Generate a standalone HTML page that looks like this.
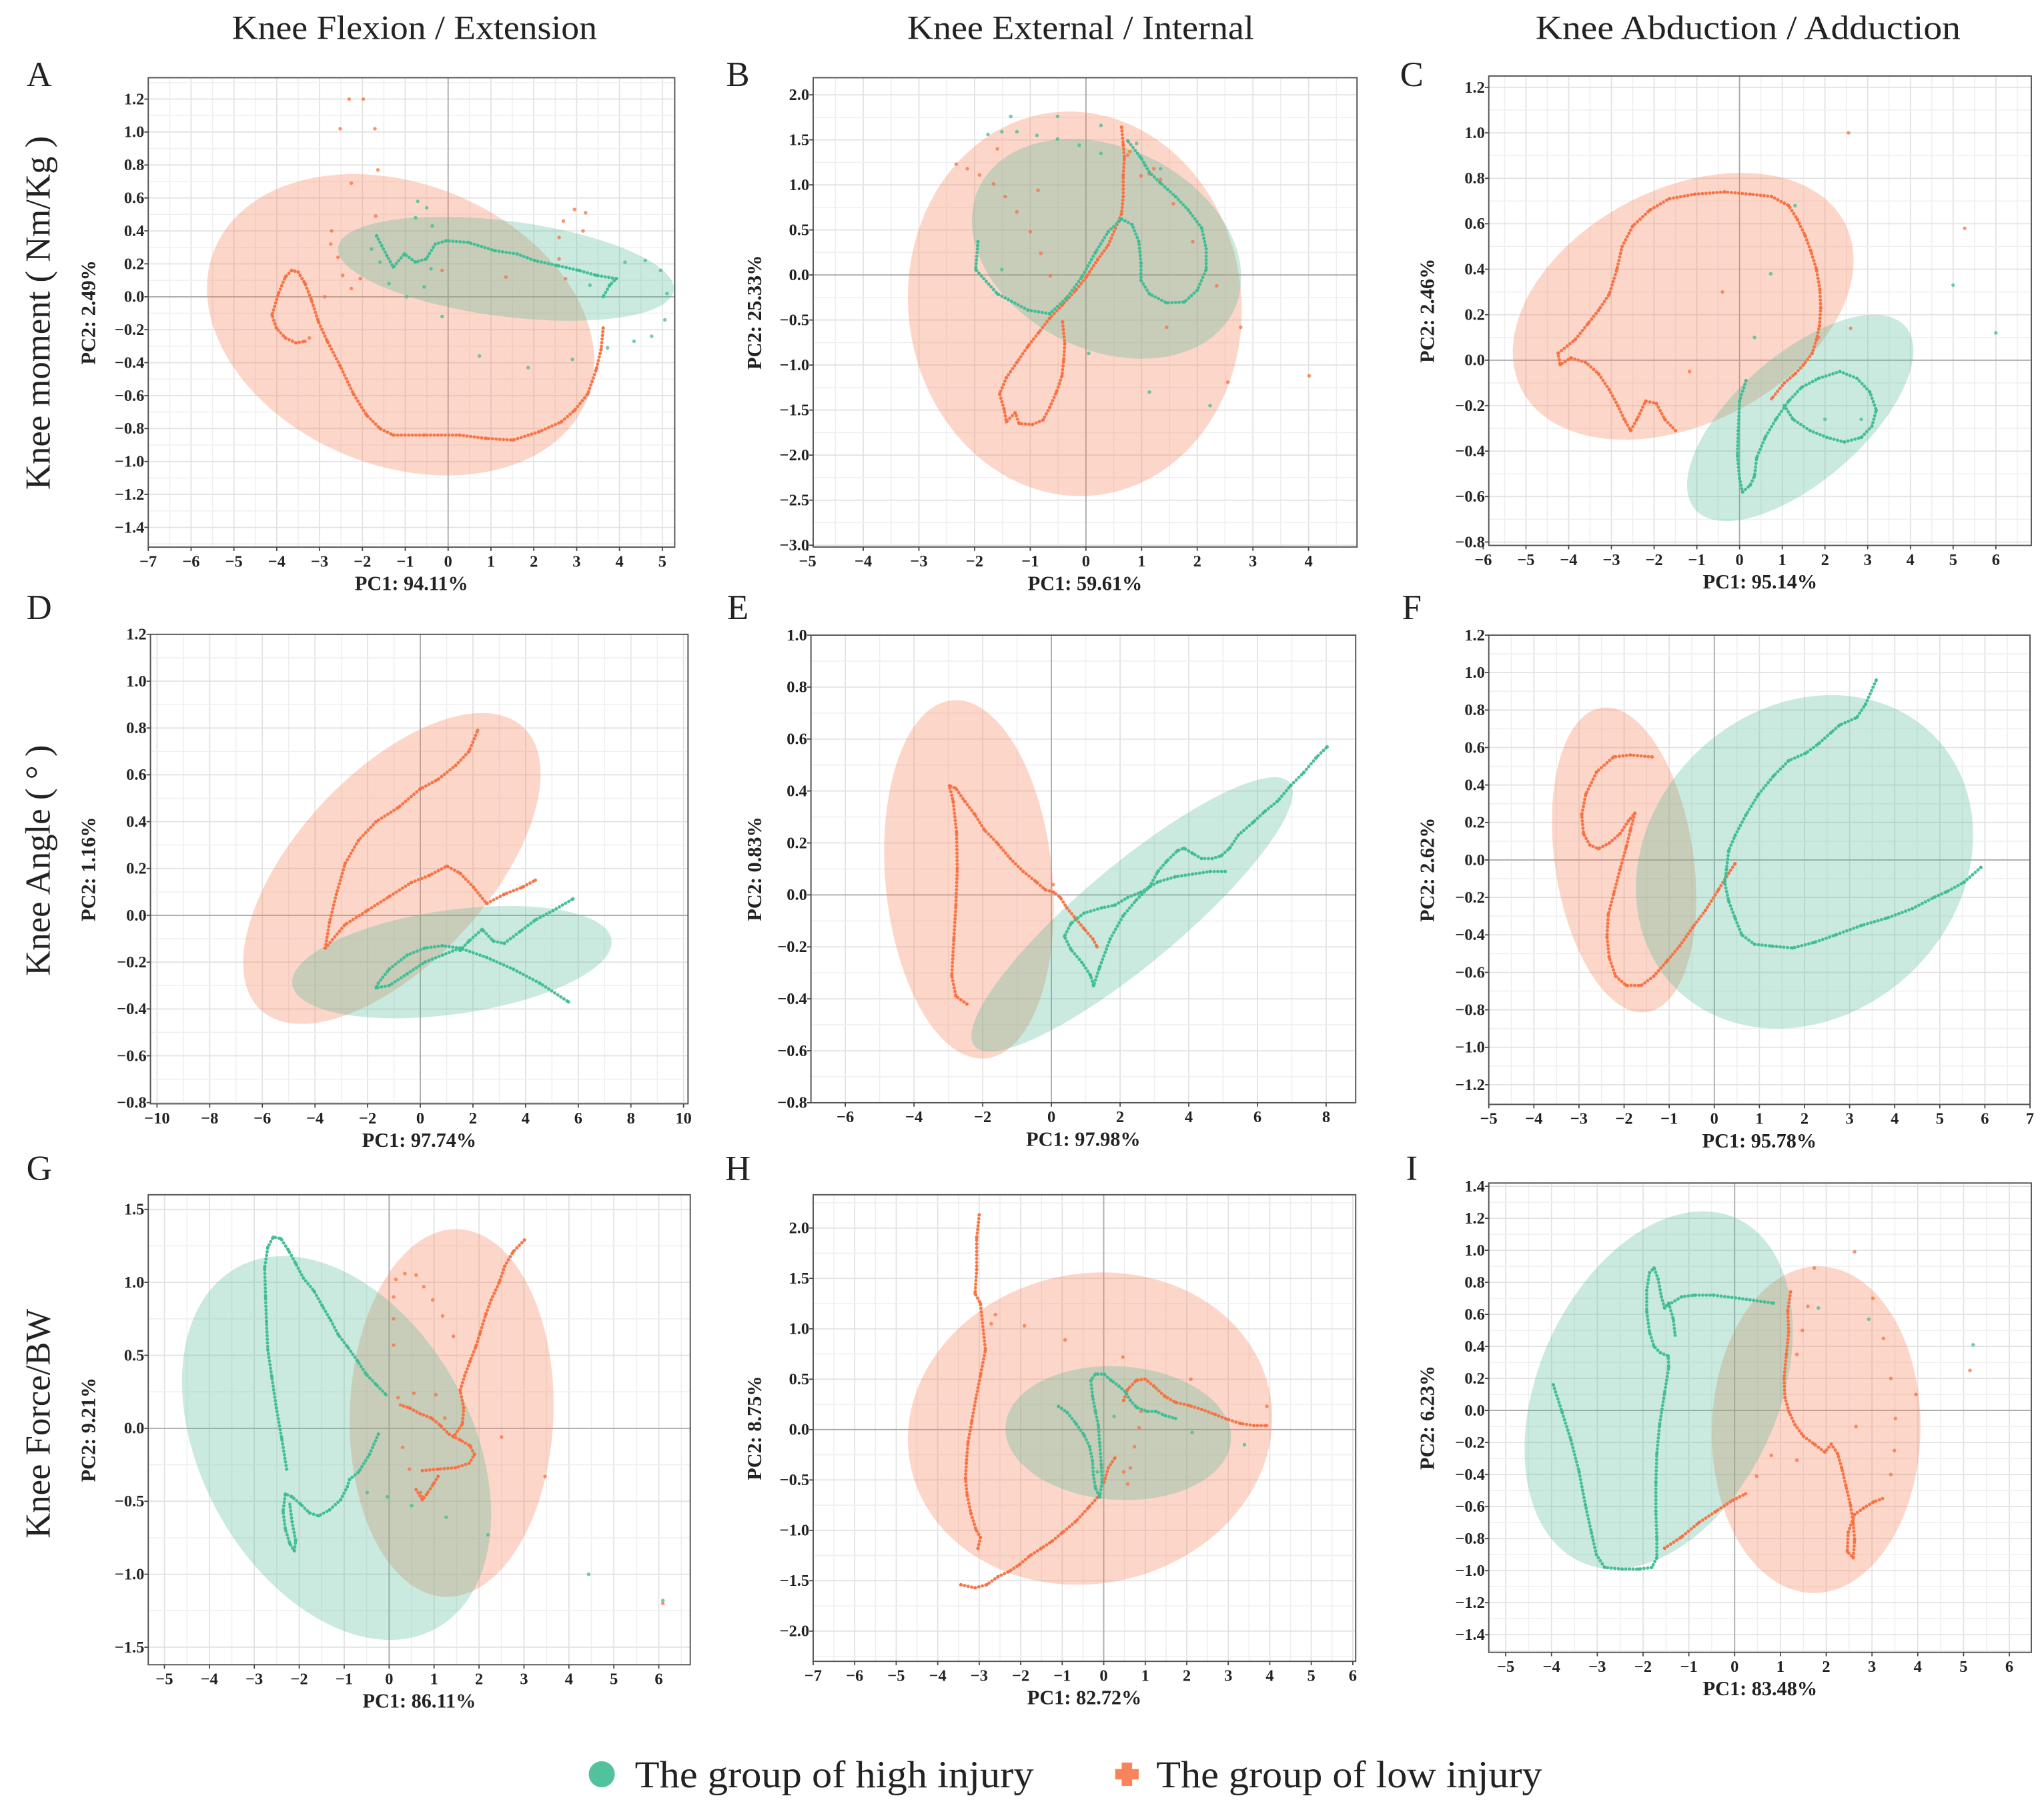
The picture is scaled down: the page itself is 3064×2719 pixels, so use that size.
<!DOCTYPE html>
<html><head><meta charset="utf-8">
<style>
html,body{margin:0;padding:0;background:#fff;}
svg{display:block;}
text{font-family:"Liberation Serif","Times New Roman",serif;fill:#222;}
.tk{font-size:12.5px;font-weight:bold;}
.al{font-size:15.5px;font-weight:bold;}
</style></head>
<body>
<svg id="fig" xmlns="http://www.w3.org/2000/svg" width="3064" height="2719" viewBox="0 0 1568 1391.5">
<rect x="0" y="0" width="1568" height="1391.5" fill="#fff"/>
<text x="318" y="30" font-size="26" text-anchor="middle" textLength="280" lengthAdjust="spacingAndGlyphs">Knee Flexion / Extension</text>
<text x="829" y="30" font-size="26" text-anchor="middle" textLength="266" lengthAdjust="spacingAndGlyphs">Knee External / Internal</text>
<text x="1341" y="30" font-size="26" text-anchor="middle" textLength="326" lengthAdjust="spacingAndGlyphs">Knee Abduction  / Adduction</text>
<text x="38" y="240" font-size="27" text-anchor="middle" transform="rotate(-90 38 240)">Knee moment ( Nm/Kg )</text>
<text x="38" y="660" font-size="27" text-anchor="middle" transform="rotate(-90 38 660)">Knee Angle ( ° )</text>
<text x="38" y="1092" font-size="27" text-anchor="middle" transform="rotate(-90 38 1092)">Knee Force/BW</text>
<g>
<circle cx="461.6" cy="1361" r="10" fill="#52c29c"/>
<text x="487" y="1371" font-size="29" textLength="306" lengthAdjust="spacingAndGlyphs">The group of high injury</text>
<path d="M860.5 1352h8v5h5v8h-5v5h-8v-5h-5v-8h5z" fill="#f7845a"/>
<text x="887" y="1371" font-size="29" textLength="296" lengthAdjust="spacingAndGlyphs">The group of low injury</text>
</g>
</svg>
<script>
const A_pinkEll=[-1.11,-0.17,4.52,0.915,-1.09];
const A_greenEll=[1.35,0.17,3.92,0.316,-1.49];
const B_pinkEll=[-0.2,-0.32,3.0,2.135,-0.1];
const B_greenEll=[0.37,0.29,2.42,1.22,-0.63];
const C_pinkEll=[-1.32,0.237,3.99,0.587,1.37];
const C_greenEll=[1.42,-0.254,2.65,0.454,1.73];
const D_pinkEll=[-1.08,0.2,5.65,0.664,3.43];
const D_greenEll=[1.2,-0.2,6.07,0.24,2.16];
const E_pinkEll=[-2.4,0.06,2.47,0.69,-0.38];
const E_greenEll=[2.35,-0.075,4.68,0.528,4.15];
const F_pinkEll=[-2.0,0.0,1.6,0.814,-0.4];
const F_greenEll=[2.0,-0.01,3.74,0.89,0.6];
const G_pinkEll=[1.39,0.105,2.27,1.26,0.1];
const G_greenEll=[-1.17,-0.135,3.44,1.315,-1.19];
const H_pinkEll=[-0.33,0.01,4.39,1.55,0.3];
const H_greenEll=[0.35,-0.035,2.72,0.665,-0.18];
const I_pinkEll=[1.78,-0.12,2.28,1.02,0.05];
const I_greenEll=[-1.66,0.127,2.93,1.117,0.97];

const A_pinkPaths=[[[3.62,-0.19],[3.57,-0.32],[3.46,-0.44],[3.26,-0.59],[2.95,-0.69],[2.64,-0.76],[2.12,-0.82],[1.51,-0.87],[0.89,-0.86],[0.27,-0.84],[-0.56,-0.84],[-1.28,-0.84],[-1.59,-0.8],[-1.9,-0.72],[-2.21,-0.59],[-2.52,-0.42],[-2.82,-0.27],[-3.03,-0.15],[-3.19,-0.02],[-3.34,0.08],[-3.5,0.15],[-3.65,0.16],[-3.8,0.12],[-3.96,0.02],[-4.11,-0.11],[-4.01,-0.19],[-3.8,-0.25],[-3.55,-0.28],[-3.34,-0.27]]];
const A_pinkPts=[[-2.52,1.02],[-2.31,1.2],[-1.98,1.2],[-1.71,1.02],[-1.64,0.77],[-2.26,0.69],[-1.69,0.49],[-2.72,0.4],[-2.74,0.32],[-2.57,0.24],[-2.46,0.13],[-2.26,0.05],[-2.05,0.11],[2.95,0.53],[3.21,0.51],[3.15,0.4],[2.69,0.46],[2.59,0.36],[2.59,0.23],[2.74,0.11],[1.35,0.12],[-0.14,0.16],[-2.88,0.0],[-3.24,-0.25]];
const A_greenPaths=[[[-1.67,0.37],[-1.43,0.25],[-1.28,0.18],[-1.02,0.26],[-0.76,0.21],[-0.51,0.23],[-0.3,0.32],[-0.04,0.34],[0.47,0.33],[1.09,0.28],[1.61,0.26],[2.02,0.22],[2.54,0.19],[3.05,0.16],[3.46,0.13],[3.93,0.11],[3.77,0.07],[3.62,0.0]]];
const A_greenPts=[[-0.71,0.58],[-0.5,0.54],[-0.76,0.48],[-0.37,0.43],[-1.79,0.29],[-1.59,0.21],[-1.38,0.08],[-0.97,0.0],[-0.56,0.06],[-0.4,0.17],[-0.14,-0.12],[0.73,-0.36],[1.87,-0.43],[2.9,-0.38],[4.13,0.21],[4.6,0.22],[4.96,0.16],[5.11,0.02],[5.06,-0.14],[4.34,-0.27],[4.75,-0.24],[3.72,-0.31],[3.31,0.07]];

const B_pinkPaths=[[[0.64,1.64],[0.67,1.45],[0.69,1.3],[0.67,1.1],[0.67,0.87],[0.64,0.68],[0.4,0.33],[0.21,0.17],[0.01,-0.02],[-0.18,-0.17],[-0.42,-0.33],[-0.65,-0.48],[-0.85,-0.64],[-1.04,-0.79],[-1.24,-0.97],[-1.43,-1.14],[-1.55,-1.32],[-1.47,-1.49],[-1.43,-1.63],[-1.27,-1.53],[-1.2,-1.65],[-0.96,-1.66],[-0.77,-1.61],[-0.65,-1.47],[-0.53,-1.3],[-0.43,-1.12],[-0.4,-0.95],[-0.38,-0.76],[-0.42,-0.52]]];
const B_pinkPts=[[-2.33,1.23],[-2.13,1.18],[-1.91,1.11],[-1.59,1.4],[-1.66,1.01],[-1.45,0.87],[-1.24,0.7],[-0.86,0.94],[-1.0,0.48],[-0.81,0.24],[-0.64,-0.01],[0.79,1.37],[1.06,1.22],[1.22,1.18],[0.99,1.1],[1.14,1.12],[1.34,1.06],[1.57,0.79],[1.92,0.37],[2.35,-0.12],[1.45,-0.58],[2.78,-0.58],[2.55,-1.19],[4.01,-1.12],[0.75,1.33]];
const B_greenPaths=[[[-1.94,0.37],[-1.98,0.06],[-1.59,-0.21],[-1.04,-0.39],[-0.65,-0.43],[-0.34,-0.25],[-0.07,-0.02],[0.17,0.25],[0.4,0.48],[0.64,0.62],[0.83,0.56],[0.95,0.37],[0.99,0.13],[0.99,-0.06],[1.14,-0.21],[1.45,-0.31],[1.77,-0.3],[2.0,-0.17],[2.16,0.06],[2.16,0.29],[2.08,0.52],[1.84,0.72],[1.61,0.87],[1.34,1.02],[1.14,1.14],[0.99,1.3],[0.75,1.49]]];
const B_greenPts=[[-1.35,1.76],[-0.51,1.76],[-1.76,1.56],[-1.51,1.59],[-1.24,1.59],[-0.88,1.55],[-0.51,1.51],[-0.12,1.44],[0.27,1.66],[0.27,1.35],[0.91,1.46],[1.34,1.18],[-1.51,0.06],[0.05,-0.87],[1.14,-1.3],[2.23,-1.45]];

const C_pinkPaths=[[[-1.5,-0.31],[-1.75,-0.26],[-1.95,-0.19],[-2.2,-0.18],[-2.4,-0.26],[-2.55,-0.31],[-2.7,-0.26],[-2.85,-0.2],[-3.05,-0.13],[-3.3,-0.06],[-3.6,-0.01],[-3.95,0.01],[-4.2,-0.02],[-4.25,0.03],[-3.85,0.09],[-3.55,0.16],[-3.3,0.22],[-3.05,0.29],[-2.87,0.4],[-2.75,0.5],[-2.5,0.59],[-2.1,0.66],[-1.65,0.71],[-1.05,0.73],[-0.35,0.74],[0.25,0.73],[0.75,0.72],[1.15,0.68],[1.35,0.62],[1.53,0.55],[1.67,0.48],[1.8,0.4],[1.88,0.31],[1.9,0.23],[1.87,0.15],[1.8,0.09],[1.7,0.03],[1.5,-0.02],[1.3,-0.06],[1.05,-0.1],[0.75,-0.17]]];
const C_pinkPts=[[2.55,1.0],[5.27,0.58],[-0.4,0.3],[-1.17,-0.05],[2.6,0.14],[1.85,0.1]];
const C_greenPaths=[[[0.15,-0.09],[0.0,-0.18],[-0.03,-0.31],[-0.05,-0.42],[0.0,-0.52],[0.07,-0.58],[0.25,-0.55],[0.35,-0.51],[0.4,-0.43],[0.6,-0.34],[0.85,-0.26],[1.15,-0.18],[1.45,-0.12],[1.85,-0.08],[2.35,-0.05],[2.75,-0.08],[3.05,-0.14],[3.2,-0.22],[3.1,-0.29],[2.85,-0.34],[2.45,-0.36],[2.05,-0.34],[1.65,-0.31],[1.25,-0.26],[1.05,-0.2]]];
const C_greenPts=[[1.3,0.68],[0.73,0.38],[0.35,0.1],[5.0,0.33],[6.0,0.12],[2.0,-0.26],[2.85,-0.26]];

const D_pinkPaths=[[[-3.61,-0.14],[-3.45,-0.03],[-3.19,0.09],[-2.86,0.22],[-2.35,0.32],[-1.68,0.4],[-0.84,0.46],[0.0,0.54],[0.67,0.58],[1.34,0.64],[1.85,0.7],[2.18,0.79]],[[-3.61,-0.14],[-2.86,-0.04],[-2.02,0.02],[-1.18,0.08],[-0.34,0.14],[0.34,0.17],[1.01,0.21],[1.51,0.18],[2.02,0.12],[2.52,0.05],[3.19,0.09],[3.87,0.12],[4.37,0.15]]];
const D_pinkPts=[];
const D_greenPaths=[[[1.51,-0.14],[0.84,-0.13],[0.17,-0.14],[-0.5,-0.17],[-1.18,-0.23],[-1.6,-0.29],[-1.68,-0.31],[-1.18,-0.3],[-0.5,-0.25],[0.17,-0.2],[0.84,-0.17],[1.51,-0.14],[2.52,-0.18],[3.53,-0.23],[4.54,-0.29],[5.63,-0.37]],[[1.51,-0.15],[1.85,-0.11],[2.35,-0.06],[2.77,-0.11],[3.19,-0.12],[3.78,-0.07],[4.37,-0.02],[5.04,0.02],[5.8,0.07]]];
const D_greenPts=[];

const E_pinkPaths=[[[-2.46,-0.42],[-2.78,-0.39],[-2.9,-0.31],[-2.84,-0.17],[-2.78,-0.04],[-2.74,0.1],[-2.76,0.24],[-2.86,0.36],[-2.97,0.42],[-2.78,0.41],[-2.52,0.36],[-2.23,0.31],[-1.95,0.25],[-1.58,0.2],[-1.2,0.14],[-0.82,0.09],[-0.44,0.05],[-0.18,0.02],[0.07,0.01],[0.26,-0.01],[0.45,-0.05],[0.7,-0.09],[0.95,-0.13],[1.21,-0.17],[1.33,-0.2]]];
const E_pinkPts=[[0.05,0.04]];
const E_greenPaths=[[[5.06,0.09],[4.62,0.09],[4.11,0.08],[3.61,0.07],[3.1,0.05],[2.6,0.01],[2.22,-0.01],[1.84,-0.04],[1.46,-0.05],[0.95,-0.07],[0.57,-0.11],[0.38,-0.16],[0.57,-0.21],[0.89,-0.26],[1.14,-0.31],[1.23,-0.35],[1.4,-0.28],[1.71,-0.17],[2.09,-0.08],[2.47,-0.02],[2.85,0.03],[3.1,0.09],[3.36,0.13],[3.67,0.17],[3.86,0.18],[4.11,0.16],[4.37,0.14],[4.68,0.14],[4.94,0.15],[5.19,0.18],[5.44,0.23],[5.88,0.28],[6.2,0.32],[6.58,0.36],[6.96,0.42],[7.34,0.47],[7.72,0.53],[8.03,0.57]]];
const E_greenPts=[];

const F_pinkPaths=[[[-1.38,0.55],[-1.86,0.56],[-2.23,0.55],[-2.61,0.47],[-2.85,0.35],[-2.94,0.24],[-2.9,0.14],[-2.76,0.08],[-2.57,0.06],[-2.33,0.09],[-2.09,0.14],[-1.9,0.21],[-1.76,0.25],[-1.86,0.16],[-1.95,0.07],[-2.09,-0.05],[-2.23,-0.18],[-2.35,-0.29],[-2.38,-0.41],[-2.33,-0.52],[-2.19,-0.62],[-1.95,-0.67],[-1.62,-0.67],[-1.34,-0.62],[-1.05,-0.54],[-0.77,-0.46],[-0.48,-0.36],[-0.2,-0.27],[0.09,-0.16],[0.32,-0.07],[0.46,-0.02]]];
const F_pinkPts=[];
const F_greenPaths=[[[5.91,-0.04],[5.53,-0.12],[5.15,-0.17],[4.87,-0.2],[4.39,-0.26],[3.83,-0.31],[3.26,-0.35],[2.69,-0.4],[2.22,-0.44],[1.74,-0.47],[1.27,-0.46],[0.89,-0.45],[0.61,-0.4],[0.46,-0.31],[0.32,-0.22],[0.23,-0.12],[0.27,-0.05],[0.32,0.05],[0.46,0.13],[0.7,0.24],[0.98,0.35],[1.32,0.45],[1.65,0.53],[2.03,0.57],[2.31,0.62],[2.59,0.68],[2.78,0.72],[3.16,0.76],[3.35,0.83],[3.59,0.96]]];
const F_greenPts=[];

const G_pinkPaths=[[[3.01,1.29],[2.76,1.21],[2.57,1.11],[2.45,1.0],[2.27,0.88],[2.15,0.78],[2.02,0.65],[1.93,0.56],[1.8,0.46],[1.68,0.36],[1.58,0.26],[1.66,0.14],[1.63,0.03],[1.43,-0.06]],[[0.74,-0.29],[1.09,-0.28],[1.48,-0.27],[1.78,-0.24],[1.9,-0.18],[1.8,-0.12],[1.58,-0.08],[1.33,-0.04],[1.14,0.02],[0.94,0.07],[0.69,0.1],[0.45,0.14],[0.25,0.16]],[[0.6,-0.42],[0.74,-0.49],[0.84,-0.45],[0.99,-0.38],[1.09,-0.33]]];
const G_pinkPts=[[0.15,1.02],[0.35,1.06],[0.6,1.05],[0.77,0.97],[0.97,0.88],[1.19,0.77],[1.43,0.63],[0.1,0.9],[0.1,0.75],[0.1,0.57],[0.2,0.21],[0.3,-0.13],[0.45,-0.28],[2.5,-0.06],[3.47,-0.33],[6.09,-1.2],[0.55,0.24],[1.04,0.23],[1.24,0.07],[0.74,-0.47],[0.7,-0.44]];
const G_greenPaths=[[[-2.28,-0.28],[-2.39,-0.07],[-2.51,0.14],[-2.61,0.35],[-2.7,0.54],[-2.73,0.73],[-2.75,0.9],[-2.77,1.1],[-2.7,1.24],[-2.58,1.31],[-2.41,1.3],[-2.24,1.22],[-2.08,1.13],[-1.91,1.03],[-1.67,0.94],[-1.49,0.84],[-1.3,0.74],[-1.13,0.64],[-0.93,0.56],[-0.7,0.46],[-0.51,0.37],[-0.29,0.3],[-0.07,0.23]],[[-0.24,-0.04],[-0.44,-0.18],[-0.68,-0.3],[-0.88,-0.35],[-0.93,-0.4],[-1.08,-0.49],[-1.33,-0.56],[-1.57,-0.6],[-1.77,-0.58],[-1.97,-0.52],[-2.16,-0.47],[-2.31,-0.45],[-2.36,-0.57],[-2.31,-0.69],[-2.21,-0.79],[-2.11,-0.84],[-2.08,-0.77],[-2.16,-0.64],[-2.21,-0.52]]];
const G_greenPts=[[-0.49,-0.44],[-0.04,-0.47],[0.5,-0.53],[1.27,-0.61],[2.2,-0.73],[4.44,-1.0],[6.09,-1.18]];

const H_pinkPaths=[[[-3.0,2.13],[-3.06,1.9],[-3.06,1.59],[-3.1,1.35],[-2.97,1.25],[-2.85,0.79],[-2.97,0.54],[-3.08,0.31],[-3.18,0.08],[-3.27,-0.13],[-3.31,-0.33],[-3.33,-0.49],[-3.29,-0.65],[-3.2,-0.83],[-3.08,-0.99],[-2.97,-1.07],[-3.03,-1.18]],[[-3.44,-1.54],[-3.1,-1.57],[-2.82,-1.54],[-2.55,-1.46],[-2.29,-1.41],[-2.03,-1.34],[-1.77,-1.25],[-1.51,-1.18],[-1.25,-1.11],[-0.99,-1.02],[-0.67,-0.91],[-0.36,-0.77],[-0.1,-0.65]],[[0.48,0.29],[0.58,0.4],[0.79,0.49],[1.0,0.5],[1.21,0.43],[1.47,0.33],[1.73,0.27],[2.05,0.24],[2.36,0.2],[2.68,0.15],[2.99,0.1],[3.3,0.06],[3.62,0.04],[3.93,0.04]],[[0.01,-0.52],[0.11,-0.38],[0.27,-0.28]]];
const H_pinkPts=[[-2.61,1.14],[-2.71,1.05],[-1.91,1.03],[-0.93,0.89],[0.46,0.72],[2.1,0.5],[3.93,0.23],[0.85,0.02],[0.74,-0.17],[0.64,-0.38],[0.58,-0.54],[0.48,-0.42],[0.9,0.18]];
const H_greenPaths=[[[-1.09,0.23],[-0.88,0.17],[-0.67,0.06],[-0.48,-0.05],[-0.34,-0.17],[-0.27,-0.31],[-0.25,-0.45],[-0.2,-0.58],[-0.1,-0.67]],[[-0.1,-0.67],[-0.04,-0.52],[-0.06,-0.35],[-0.1,-0.13],[-0.13,0.04],[-0.2,0.18],[-0.27,0.33],[-0.31,0.49],[-0.2,0.55],[0.01,0.55],[0.17,0.49],[0.37,0.43],[0.53,0.37],[0.64,0.29],[0.79,0.22],[1.05,0.18],[1.26,0.18],[1.47,0.14],[1.73,0.11]]];
const H_greenPts=[[0.25,0.13],[2.13,-0.03],[3.39,-0.15],[-0.15,-0.42]];

const I_pinkPaths=[[[1.22,0.74],[1.16,0.62],[1.18,0.49],[1.13,0.35],[1.08,0.2],[1.1,0.08],[1.19,-0.01],[1.32,-0.09],[1.5,-0.16],[1.74,-0.21],[1.97,-0.26],[2.11,-0.21],[2.25,-0.27],[2.34,-0.36],[2.43,-0.47],[2.53,-0.59],[2.59,-0.7],[2.62,-0.81],[2.59,-0.92],[2.46,-0.88],[2.48,-0.76],[2.62,-0.65],[2.81,-0.61],[3.04,-0.57],[3.23,-0.55]],[[-1.53,-0.86],[-1.16,-0.79],[-0.78,-0.7],[-0.41,-0.63],[-0.04,-0.56],[0.24,-0.52]]];
const I_pinkPts=[[2.62,0.99],[1.74,0.89],[1.6,0.65],[3.02,0.7],[3.25,0.45],[3.41,0.2],[3.96,0.1],[3.51,-0.05],[3.49,-0.25],[3.41,-0.4],[2.65,-0.1],[1.36,-0.31],[0.8,-0.28],[0.48,-0.41],[1.48,0.5],[1.36,0.35],[5.14,0.25]];
const I_greenPaths=[[[-3.96,0.16],[-3.77,-0.01],[-3.58,-0.18],[-3.4,-0.38],[-3.26,-0.59],[-3.13,-0.76],[-3.02,-0.9],[-2.84,-0.98],[-2.46,-0.99],[-2.09,-0.99],[-1.81,-0.98],[-1.7,-0.92],[-1.7,-0.79],[-1.72,-0.63],[-1.72,-0.45],[-1.7,-0.27],[-1.64,-0.09],[-1.53,0.11],[-1.44,0.27],[-1.45,0.34],[-1.62,0.36],[-1.76,0.4],[-1.86,0.49],[-1.92,0.62],[-1.92,0.75],[-1.86,0.86],[-1.76,0.89],[-1.67,0.82],[-1.6,0.71],[-1.53,0.64],[-1.44,0.67],[-1.34,0.57],[-1.3,0.47]],[[-1.44,0.66],[-1.16,0.71],[-0.88,0.72],[-0.46,0.72],[0.1,0.7],[0.85,0.67]]];
const I_greenPts=[[1.83,0.64],[2.93,0.57],[5.21,0.41]];

const A_xTicks=[-7,-6,-5,-4,-3,-2,-1,0,1,2,3,4,5];
const A_yTicks=[-1.4,-1.2,-1.0,-0.8,-0.6,-0.4,-0.2,0,0.2,0.4,0.6,0.8,1.0,1.2];
const B_xTicks=[-5,-4,-3,-2,-1,0,1,2,3,4];
const B_yTicks=[-3.0,-2.5,-2.0,-1.5,-1.0,-0.5,0,0.5,1.0,1.5,2.0];
const C_xTicks=[-6,-5,-4,-3,-2,-1,0,1,2,3,4,5,6];
const C_yTicks=[-0.8,-0.6,-0.4,-0.2,0,0.2,0.4,0.6,0.8,1.0,1.2];
const D_xTicks=[-10,-8,-6,-4,-2,0,2,4,6,8,10];
const D_yTicks=[-0.8,-0.6,-0.4,-0.2,0,0.2,0.4,0.6,0.8,1.0,1.2];
const E_xTicks=[-6,-4,-2,0,2,4,6,8];
const E_yTicks=[-0.8,-0.6,-0.4,-0.2,0,0.2,0.4,0.6,0.8,1.0];
const F_xTicks=[-5,-4,-3,-2,-1,0,1,2,3,4,5,6,7];
const F_yTicks=[-1.2,-1.0,-0.8,-0.6,-0.4,-0.2,0,0.2,0.4,0.6,0.8,1.0,1.2];
const G_xTicks=[-5,-4,-3,-2,-1,0,1,2,3,4,5,6];
const G_yTicks=[-1.5,-1.0,-0.5,0,0.5,1.0,1.5];
const H_xTicks=[-7,-6,-5,-4,-3,-2,-1,0,1,2,3,4,5,6];
const H_yTicks=[-2.0,-1.5,-1.0,-0.5,0,0.5,1.0,1.5,2.0];
const I_xTicks=[-5,-4,-3,-2,-1,0,1,2,3,4,5,6];
const I_yTicks=[-1.4,-1.2,-1.0,-0.8,-0.6,-0.4,-0.2,0,0.2,0.4,0.6,0.8,1.0,1.2,1.4];
const pc1Labels=['PC1: 94.11%','PC1: 59.61%','PC1: 95.14%','PC1: 97.74%','PC1: 97.98%','PC1: 95.78%','PC1: 86.11%','PC1: 82.72%','PC1: 83.48%'];
const pc2Labels=['PC2: 2.49%','PC2: 25.33%','PC2: 2.46%','PC2: 1.16%','PC2: 0.83%','PC2: 2.62%','PC2: 9.21%','PC2: 8.75%','PC2: 6.23%'];

const layout=[
 {id:'A',box:[113.7,59.6,517.6,419.7],xlim:[-7,5.29],ylim:[-1.52,1.33],ylx:73,lx:30,ly:66},
 {id:'B',box:[623.8,59.6,1041,419.6],xlim:[-4.9,4.87],ylim:[-3.02,2.19],ylx:584,lx:566,ly:66},
 {id:'C',box:[1142.1,58.3,1558.3,418.4],xlim:[-5.87,6.83],ylim:[-0.815,1.25],ylx:1100,lx:1083,ly:66},
 {id:'D',box:[115.4,486.6,527.8,846.7],xlim:[-10.25,10.17],ylim:[-0.805,1.2],ylx:73,lx:30,ly:475},
 {id:'E',box:[622.1,487.2,1040,845.9],xlim:[-7.0,8.86],ylim:[-0.8,1.0],ylx:584,lx:566,ly:475},
 {id:'F',box:[1142.1,487.2,1557.3,847.2],xlim:[-5,7],ylim:[-1.305,1.2],ylx:1100,lx:1083,ly:475},
 {id:'G',box:[113.7,916.5,529.5,1277],xlim:[-5.36,6.7],ylim:[-1.62,1.6],ylx:73,lx:30,ly:905},
 {id:'H',box:[623.8,916.5,1040,1274.4],xlim:[-7,6.07],ylim:[-2.3,2.33],ylx:584,lx:566,ly:905},
 {id:'I',box:[1142.1,907.5,1558.3,1267.5],xlim:[-5.37,6.48],ylim:[-1.51,1.42],ylx:1100,lx:1083,ly:905}
];
const DATA={
 A:[A_pinkEll,A_greenEll,A_pinkPaths,A_pinkPts,A_greenPaths,A_greenPts,A_xTicks,A_yTicks],
 B:[B_pinkEll,B_greenEll,B_pinkPaths,B_pinkPts,B_greenPaths,B_greenPts,B_xTicks,B_yTicks],
 C:[C_pinkEll,C_greenEll,C_pinkPaths,C_pinkPts,C_greenPaths,C_greenPts,C_xTicks,C_yTicks],
 D:[D_pinkEll,D_greenEll,D_pinkPaths,D_pinkPts,D_greenPaths,D_greenPts,D_xTicks,D_yTicks],
 E:[E_pinkEll,E_greenEll,E_pinkPaths,E_pinkPts,E_greenPaths,E_greenPts,E_xTicks,E_yTicks],
 F:[F_pinkEll,F_greenEll,F_pinkPaths,F_pinkPts,F_greenPaths,F_greenPts,F_xTicks,F_yTicks],
 G:[G_pinkEll,G_greenEll,G_pinkPaths,G_pinkPts,G_greenPaths,G_greenPts,G_xTicks,G_yTicks],
 H:[H_pinkEll,H_greenEll,H_pinkPaths,H_pinkPts,H_greenPaths,H_greenPts,H_xTicks,H_yTicks],
 I:[I_pinkEll,I_greenEll,I_pinkPaths,I_pinkPts,I_greenPaths,I_greenPts,I_xTicks,I_yTicks]
};

const NS='http://www.w3.org/2000/svg';
const svg=document.getElementById('fig');
const PINK='#f7703f', GREEN='#3dbd93';
function mk(tag,attrs,parent){const e=document.createElementNS(NS,tag);for(const k in attrs)e.setAttribute(k,attrs[k]);parent.appendChild(e);return e;}
function fmtY(v){const s=Math.abs(v).toFixed(1);return (v<-1e-9?'\u2212':'')+s;}
function fmtX(v){return (v<0?'\u2212':'')+Math.abs(v);}

layout.forEach((L,pi)=>{
 const [pinkEll,greenEll,pinkPaths,pinkPts,greenPaths,greenPts,xTicks,yTicks]=DATA[L.id];
 const [x0,y0,x1,y1]=L.box;
 const sx=v=>x0+(v-L.xlim[0])/(L.xlim[1]-L.xlim[0])*(x1-x0);
 const sy=v=>y1-(v-L.ylim[0])/(L.ylim[1]-L.ylim[0])*(y1-y0);
 const g=mk('g',{},svg);
 
 
 const cp=mk('clipPath',{id:'clip'+L.id},g);
 mk('rect',{x:x0,y:y0,width:x1-x0,height:y1-y0},cp);
 const lab=mk('text',{x:L.lx,y:L.ly,'font-size':27,'text-anchor':'middle'},g);
 lab.textContent=L.id;
 
 
 const grid=mk('g',{'clip-path':'url(#clip'+L.id+')'},g);
 
 
 const xs=xTicks[1]-xTicks[0], ys=yTicks[1]-yTicks[0];
 for(let v=xTicks[0]-xs;v<=xTicks[xTicks.length-1]+xs;v+=xs){
  mk('line',{x1:sx(v+xs/2),x2:sx(v+xs/2),y1:y0,y2:y1,stroke:'#efefef','stroke-width':0.8},grid);
  mk('line',{x1:sx(v),x2:sx(v),y1:y0,y2:y1,stroke:'#e2e2e2','stroke-width':0.9},grid);
 }
 for(let v=yTicks[0]-ys;v<=yTicks[yTicks.length-1]+ys;v+=ys){
  mk('line',{y1:sy(v+ys/2),y2:sy(v+ys/2),x1:x0,x2:x1,stroke:'#efefef','stroke-width':0.8},grid);
  mk('line',{y1:sy(v),y2:sy(v),x1:x0,x2:x1,stroke:'#e2e2e2','stroke-width':0.9},grid);
 }
 mk('line',{x1:sx(0),x2:sx(0),y1:y0,y2:y1,stroke:'#a8a8a8','stroke-width':0.9},grid);
 mk('line',{y1:sy(0),y2:sy(0),x1:x0,x2:x1,stroke:'#a8a8a8','stroke-width':0.9},grid);
 const body=mk('g',{'clip-path':'url(#clip'+L.id+')'},g);
 function ell(e,fill,name){
  const [cx,cy,W,H,dx]=e; const phi=Math.asin(Math.max(-0.99,Math.min(0.99,dx/W)));
  let d='';
  for(let i=0;i<=96;i++){const t=i/96*2*Math.PI;const X=sx(cx+W*Math.cos(t)),Y=sy(cy+H*Math.sin(t+phi));d+=(i?'L':'M')+X.toFixed(2)+' '+Y.toFixed(2);}
  const p=mk('path',{d:d+'Z',fill:fill},body);
  
  
 }
 ell(pinkEll,'rgba(248,130,95,0.33)','low-injury-ellipse');
 ell(greenEll,'rgba(80,185,150,0.30)','high-injury-ellipse');
 function series(paths,pts,col,name){
  const sg=mk('g',{},body);
  
  
  paths.forEach(pp=>{
   const d=pp.map((q,i)=>(i?'L':'M')+sx(q[0]).toFixed(2)+' '+sy(q[1]).toFixed(2)).join('');
   const pl=mk('path',{d:d,fill:'none',stroke:col,'stroke-width':2.5,'stroke-linecap':'round','stroke-linejoin':'round','stroke-dasharray':'0.1 2.7','stroke-opacity':0.95},sg);
   
   
   pp.forEach(q=>{const c=mk('circle',{cx:sx(q[0]),cy:sy(q[1]),r:1.3,fill:col,'fill-opacity':0.9},sg);
    
    });
  });
  pts.forEach(q=>{const c=mk('circle',{cx:sx(q[0]),cy:sy(q[1]),r:1.4,fill:col,'fill-opacity':0.75},sg);
   
   });
 }
 series(pinkPaths,pinkPts,PINK,'low-injury-series');
 series(greenPaths,greenPts,GREEN,'high-injury-series');
 const fr=mk('rect',{x:x0,y:y0,width:x1-x0,height:y1-y0,fill:'none',stroke:'#555','stroke-width':1},g);
 
 
 const ax=mk('g',{},g);
 
 
 xTicks.forEach(v=>{const X=sx(v);
  mk('line',{x1:X,x2:X,y1:y1,y2:y1+3,stroke:'#444','stroke-width':0.9},ax);
  const t=mk('text',{x:X,y:y1+15,'text-anchor':'middle',class:'tk'},ax);t.textContent=fmtX(v);
  
  });
 const ay=mk('g',{},g);
 
 
 yTicks.forEach(v=>{const Y=sy(v);
  mk('line',{x1:x0-3,x2:x0,y1:Y,y2:Y,stroke:'#444','stroke-width':0.9},ay);
  const t=mk('text',{x:x0-3,y:Y+4,'text-anchor':'end',class:'tk'},ay);t.textContent=fmtY(v);
  
  });
 const xl=mk('text',{x:(x0+x1)/2,y:y1+33,'text-anchor':'middle',class:'al'},g);xl.textContent=pc1Labels[pi];
 
 
 const yc=(y0+y1)/2;
 const yl=mk('text',{x:L.ylx,y:yc,'text-anchor':'middle',class:'al',transform:'rotate(-90 '+L.ylx+' '+yc+')'},g);yl.textContent=pc2Labels[pi];
 
 
});
</script>
</body></html>
